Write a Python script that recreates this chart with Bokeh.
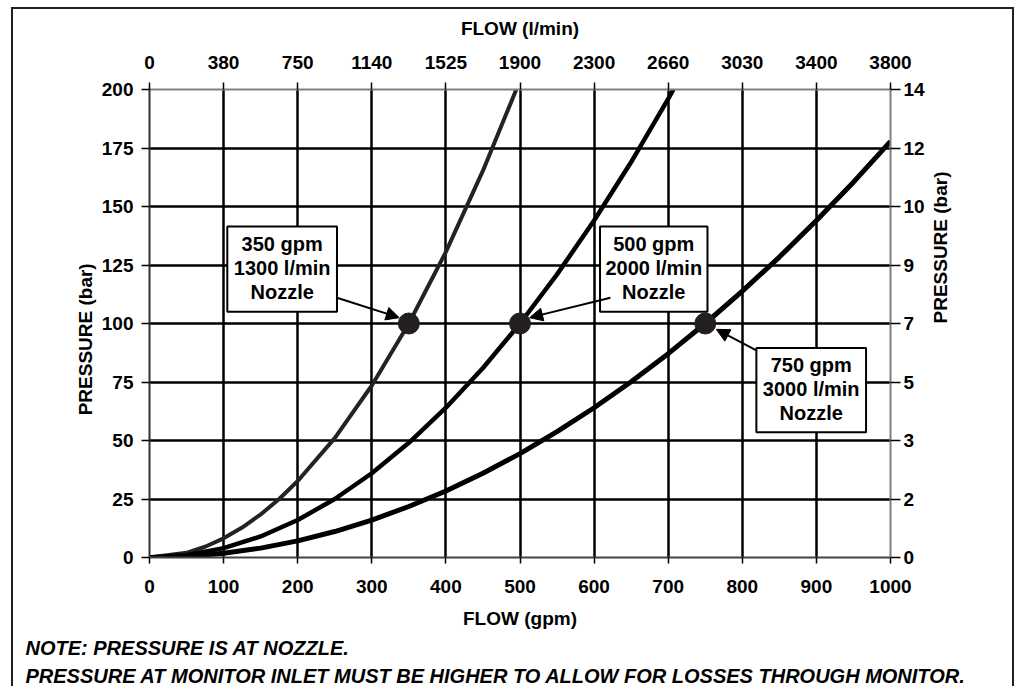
import math
from bokeh.plotting import figure
from bokeh.models import (Range1d, LinearAxis, FixedTicker, Label, Arrow, NormalHead, Title)
from bokeh.embed import file_html
from bokeh.resources import INLINE

# ---- data ----
gpm_ticks = [0, 100, 200, 300, 400, 500, 600, 700, 800, 900, 1000]
lpm_labels = ["0", "380", "750", "1140", "1525", "1900", "2300", "2660", "3030", "3400", "3800"]
p_ticks = [0, 25, 50, 75, 100, 125, 150, 175, 200]
bar_labels = ["0", "2", "3", "5", "7", "9", "10", "12", "14"]

flow_350 = [0, 50, 75, 100, 125, 150, 175, 200, 250, 300, 350, 400, 450, 495]
pres_350 = [0, 2.0, 4.6, 8.2, 12.8, 18.4, 25.0, 32.7, 51.0, 73.5, 100.0, 130.6, 165.3, 200.0]
flow_500 = [0, 50, 100, 150, 200, 250, 300, 350, 400, 450, 500, 550, 600, 650, 700, 707]
pres_500 = [0, 1.0, 4.0, 9.0, 16.0, 25.0, 36.0, 49.0, 64.0, 81.0, 100.0, 121.0, 144.0, 169.0, 196.0, 200.0]
flow_750 = [0, 50, 100, 150, 200, 250, 300, 350, 400, 450, 500, 550, 600, 650, 700, 750, 800, 850, 900, 950, 1000]
pres_750 = [0, 0.4, 1.8, 4.0, 7.1, 11.1, 16.0, 21.8, 28.4, 36.0, 44.4, 53.8, 64.0, 75.1, 87.1, 100.0, 113.8, 128.4, 144.0, 160.4, 177.8]

rated_flow = [350, 500, 750]
rated_pres = [100, 100, 100]
box_text = [["350 gpm", "1300 l/min", "Nozzle"],
            ["500 gpm", "2000 l/min", "Nozzle"],
            ["750 gpm", "3000 l/min", "Nozzle"]]
box_left = [105, 608, 819]
box_right = [253, 753, 967]
box_top = [141.5, 141.5, 89.5]
box_bottom = [105, 105, 53.5]
arrow_start = [(253, 111), (622, 111), (819, 88.5)]
arrow_end = [(337, 102.5), (513, 102.5), (765, 97.5)]

y_title = "PRESSURE (bar)"
notes = ["NOTE: PRESSURE IS AT NOZZLE.",
         "PRESSURE AT MONITOR INLET MUST BE HIGHER TO ALLOW FOR LOSSES THROUGH MONITOR."]

FONT = "Liberation Sans"
DARK = "#231f20"
PAD = "\u00a0" * 6  # shifts the vertical titles slightly downward, as in the original

p = figure(width=1003, height=679, output_backend="svg", toolbar_location=None,
           x_range=Range1d(0, 1000), y_range=Range1d(0, 200),
           min_border_left=136, min_border_right=126, min_border_top=80, min_border_bottom=131,
           x_axis_location=None, y_axis_location=None)
p.styles = {"border": "2px solid #231f20", "border-bottom": "none",
            "margin-left": "11px", "margin-top": "7px"}
p.outline_line_color = None
p.background_fill_color = "white"
p.border_fill_color = "white"

def style_axis(ax, line_color, tick_out):
    ax.axis_line_color = line_color
    ax.axis_line_width = 2
    ax.major_tick_line_color = "black"
    ax.major_tick_line_width = 1.5
    ax.major_tick_out = tick_out
    ax.major_tick_in = 0
    ax.minor_tick_line_color = None
    ax.major_label_text_font = FONT
    ax.major_label_text_font_style = "bold"
    ax.major_label_text_font_size = "19px"
    ax.major_label_text_color = "black"
    ax.axis_label_text_font = FONT
    ax.axis_label_text_font_style = "bold"
    ax.axis_label_text_font_size = "19px"
    ax.axis_label_text_color = "black"

bottom = LinearAxis(ticker=FixedTicker(ticks=gpm_ticks), axis_label="FLOW (gpm)")
style_axis(bottom, "#444444", 6)
bottom.major_label_standoff = 16
bottom.axis_label_standoff = 12
p.add_layout(bottom, "below")

top = LinearAxis(ticker=FixedTicker(ticks=gpm_ticks), axis_label="FLOW (l/min)",
                 major_label_overrides={t: l for t, l in zip(gpm_ticks, lpm_labels)})
style_axis(top, "#808080", 7)
top.major_label_standoff = 14
top.axis_label_standoff = 14
p.add_layout(top, "above")

left = LinearAxis(ticker=FixedTicker(ticks=p_ticks), axis_label=y_title + PAD)
style_axis(left, "#333333", 8)
left.major_label_standoff = 8
left.axis_label_standoff = 3
p.add_layout(left, "left")

right = LinearAxis(ticker=FixedTicker(ticks=p_ticks), axis_label=y_title,
                   major_label_overrides={t: l for t, l in zip(p_ticks, bar_labels)})
style_axis(right, "#808080", 10)
right.major_label_standoff = 3
right.axis_label_standoff = 13
right.axis_label_orientation = math.pi / 2
centered = False
try:
    right.axis_label_align = "center"
    centered = True
except Exception:
    pass
if centered:
    right.axis_label = y_title + PAD
p.add_layout(right, "right")

for i, s in enumerate(notes):
    t = Title(text=s, align="left", offset=-124,
              text_font=FONT, text_font_style="bold italic", text_font_size="20px",
              text_color="black", standoff=6 if i == 0 else 2)
    p.add_layout(t, "below")

p.xgrid.ticker = FixedTicker(ticks=gpm_ticks[1:-1])
p.ygrid.ticker = FixedTicker(ticks=p_ticks[1:-1])
for g in (p.xgrid, p.ygrid):
    g.grid_line_color = "black"
    g.grid_line_width = 2.5
    g.grid_line_alpha = 1

p.line(flow_350, pres_350, line_color="#262223", line_width=4)
p.line(flow_500, pres_500, line_color="black", line_width=4.5)
p.line(flow_750, pres_750, line_color="black", line_width=5)

p.scatter(rated_flow, rated_pres, size=21, fill_color=DARK, line_color=DARK)

for (x0, y0), (x1, y1) in zip(arrow_start, arrow_end):
    p.add_layout(Arrow(end=NormalHead(size=13, fill_color="black", line_color="black"),
                       x_start=x0, y_start=y0, x_end=x1, y_end=y1,
                       line_color="black", line_width=2))

p.quad(left=box_left, right=box_right, top=box_top, bottom=box_bottom,
       fill_color="white", line_color="black", line_width=2)

for l, r, t, b, lines in zip(box_left, box_right, box_top, box_bottom, box_text):
    cx = (l + r) / 2
    cy = (t + b) / 2
    for i, s in enumerate(lines):
        p.add_layout(Label(x=cx, y=cy, text=s, text_align="center", text_baseline="middle",
                           y_offset=(1 - i) * 24 + 1,
                           text_font=FONT, text_font_style="bold", text_font_size="20px",
                           text_color="black"))

open("out.html", "w").write(file_html(p, INLINE))
